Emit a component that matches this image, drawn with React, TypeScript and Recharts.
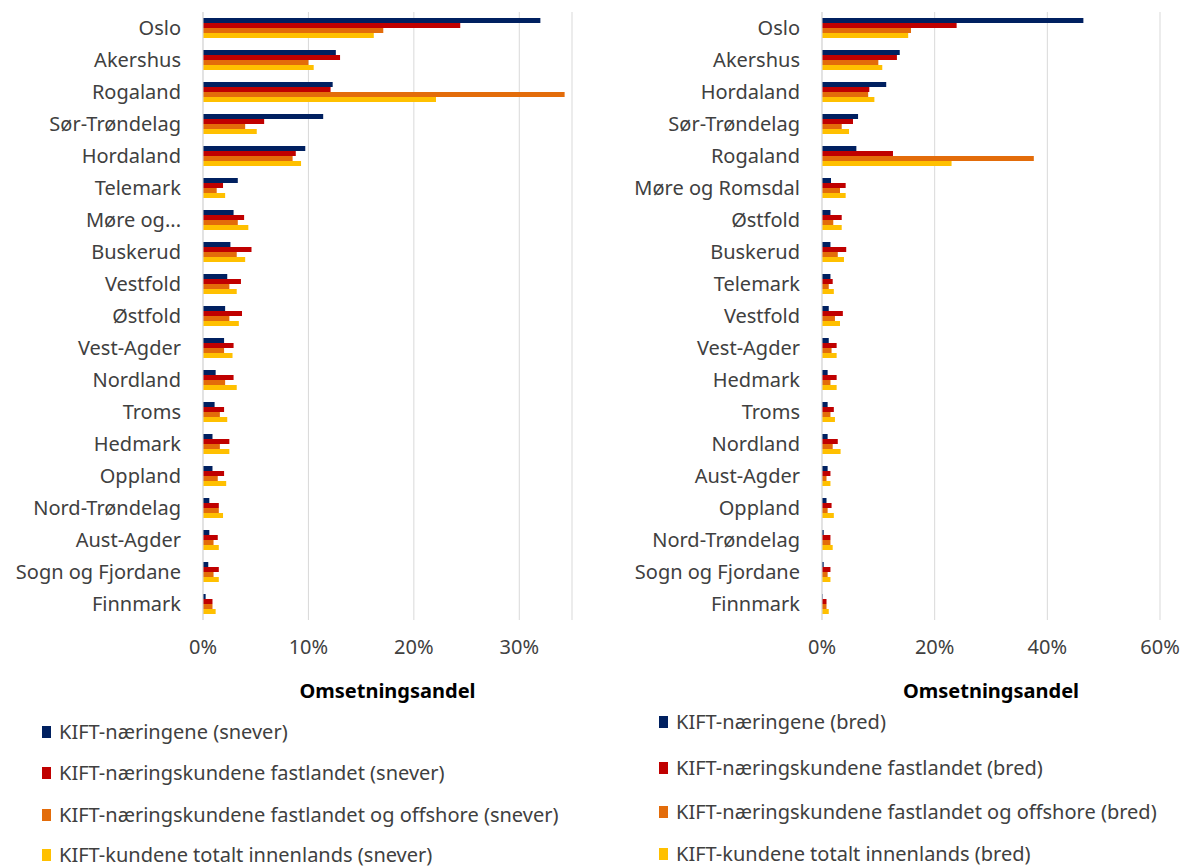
import { BarChart, Bar, XAxis, YAxis, CartesianGrid } from "recharts";

// Omsetningsandel per fylke, i prosent
const fylkerSnever = [
  "Oslo", "Akershus", "Rogaland", "Sør-Trøndelag", "Hordaland", "Telemark",
  "Møre og Romsdal", "Buskerud", "Vestfold", "Østfold", "Vest-Agder", "Nordland",
  "Troms", "Hedmark", "Oppland", "Nord-Trøndelag", "Aust-Agder", "Sogn og Fjordane", "Finnmark",
];
const naeringeneSnever = [32.0, 12.6, 12.3, 11.4, 9.7, 3.3, 2.9, 2.6, 2.3, 2.1, 2.0, 1.2, 1.1, 0.9, 0.9, 0.6, 0.6, 0.5, 0.25];
const fastlandetSnever = [24.4, 13.0, 12.1, 5.8, 8.8, 1.9, 3.9, 4.6, 3.6, 3.7, 2.9, 2.9, 2.0, 2.5, 2.0, 1.5, 1.4, 1.5, 0.9];
const offshoreSnever = [17.1, 10.0, 34.3, 4.0, 8.5, 1.3, 3.3, 3.2, 2.5, 2.5, 2.0, 2.1, 1.6, 1.6, 1.4, 1.5, 1.0, 1.0, 0.9];
const totaltSnever = [16.2, 10.5, 22.1, 5.1, 9.3, 2.1, 4.3, 4.0, 3.2, 3.4, 2.8, 3.2, 2.3, 2.5, 2.2, 1.9, 1.5, 1.5, 1.2];

const fylkerBred = [
  "Oslo", "Akershus", "Hordaland", "Sør-Trøndelag", "Rogaland", "Møre og Romsdal",
  "Østfold", "Buskerud", "Telemark", "Vestfold", "Vest-Agder", "Hedmark", "Troms",
  "Nordland", "Aust-Agder", "Oppland", "Nord-Trøndelag", "Sogn og Fjordane", "Finnmark",
];
const naeringeneBred = [46.4, 13.8, 11.4, 6.4, 6.1, 1.6, 1.5, 1.5, 1.5, 1.2, 1.2, 1.0, 1.0, 1.0, 1.0, 0.8, 0.3, 0.3, 0.1];
const fastlandetBred = [23.9, 13.3, 8.4, 5.5, 12.6, 4.2, 3.5, 4.3, 1.9, 3.7, 2.6, 2.6, 2.1, 2.8, 1.5, 1.7, 1.5, 1.5, 0.8];
const offshoreBred = [15.8, 10.0, 8.2, 3.5, 37.6, 3.2, 2.0, 2.8, 1.2, 2.3, 1.7, 1.5, 1.5, 1.9, 0.8, 1.0, 1.5, 1.0, 0.8];
const totaltBred = [15.3, 10.7, 9.3, 4.8, 23.0, 4.2, 3.5, 3.9, 2.1, 3.2, 2.6, 2.6, 2.3, 3.3, 1.5, 2.1, 1.9, 1.5, 1.2];

const seriesColors = ["#002060", "#C00000", "#E36C0A", "#FFC000"];
const seriesKeys = ["naeringene", "fastlandet", "offshore", "totalt"];
const seriesNames = [
  "KIFT-næringene",
  "KIFT-næringskundene fastlandet",
  "KIFT-næringskundene fastlandet og offshore",
  "KIFT-kundene totalt innenlands",
];

const ticksSnever = [0, 10, 20, 30];
const ticksBred = [0, 20, 40, 60];

const FONT = "'Noto Sans', 'Open Sans', sans-serif";

const buildRows = (fylker: string[], cols: number[][]) =>
  fylker.map((name, i) => ({
    name,
    naeringene: cols[0][i],
    fastlandet: cols[1][i],
    offshore: cols[2][i],
    totalt: cols[3][i],
  }));

const dataSnever = buildRows(fylkerSnever, [naeringeneSnever, fastlandetSnever, offshoreSnever, totaltSnever]);
const dataBred = buildRows(fylkerBred, [naeringeneBred, fastlandetBred, offshoreBred, totaltBred]);

interface PanelProps {
  data: any[];
  left: number;
  width: number;
  yAxisWidth: number;
  domainMax: number;
  ticks: number[];
  shortLabels?: boolean;
}

const Panel = ({ data, left, width, yAxisWidth, domainMax, ticks, shortLabels }: PanelProps) => (
  <div style={{ position: "absolute", left, top: 0 }}>
    <BarChart
      width={width}
      height={710}
      data={data}
      layout="vertical"
      margin={{ top: 12, right: 28, left: 0, bottom: 0 }}
      barSize={5}
      barGap={0}
    >
      <CartesianGrid horizontal={false} stroke="#d9d9d9" />
      <XAxis
        type="number"
        domain={[0, domainMax]}
        ticks={ticks}
        tickFormatter={(v) => `${v}%`}
        axisLine={false}
        tickLine={false}
        tickSize={0}
        tickMargin={20}
        height={90}
        tick={{ fill: "#404040", fontSize: 20, fontFamily: FONT }}
        label={{
          value: "Omsetningsandel",
          position: "insideBottom",
          offset: 12,
          style: { fill: "#000", fontSize: 20, fontWeight: 700, fontFamily: FONT },
        }}
      />
      <YAxis
        type="category"
        dataKey="name"
        width={yAxisWidth}
        interval={0}
        axisLine={{ stroke: "#d9d9d9" }}
        tickLine={false}
        tickSize={0}
        tickMargin={22}
        tickFormatter={(v) => (shortLabels && v === "Møre og Romsdal" ? "Møre og..." : v)}
        tick={{ fill: "#404040", fontSize: 20, fontFamily: FONT }}
      />
      {seriesKeys.map((key, i) => (
        <Bar key={key} dataKey={key} fill={seriesColors[i]} isAnimationActive={false} />
      ))}
    </BarChart>
  </div>
);

const LegendBlock = ({ left, rows, suffix }: { left: number; rows: number[]; suffix: string }) => (
  <>
    {seriesNames.map((name, i) => (
      <div
        key={name}
        style={{
          position: "absolute",
          left,
          top: rows[i] - 11,
          height: 22,
          lineHeight: "22px",
          display: "flex",
          alignItems: "center",
          fontFamily: FONT,
          fontSize: 20,
          color: "#404040",
          whiteSpace: "nowrap",
        }}
      >
        <span style={{ display: "inline-block", width: 9, height: 12, background: seriesColors[i], marginRight: 8 }} />
        {`${name} (${suffix})`}
      </div>
    ))}
  </>
);

export default function App() {
  return (
    <div style={{ position: "absolute", left: 0, top: 0, width: 1188, height: 868, background: "#fff", overflow: "hidden" }}>
      <Panel data={dataSnever} left={0} width={600} yAxisWidth={203} domainMax={35} ticks={ticksSnever} shortLabels />
      <Panel data={dataBred} left={600} width={588} yAxisWidth={222} domainMax={60} ticks={ticksBred} />
      <LegendBlock left={42} rows={[732, 773, 815, 855]} suffix="snever" />
      <LegendBlock left={659} rows={[722, 768, 812, 854]} suffix="bred" />
    </div>
  );
}
